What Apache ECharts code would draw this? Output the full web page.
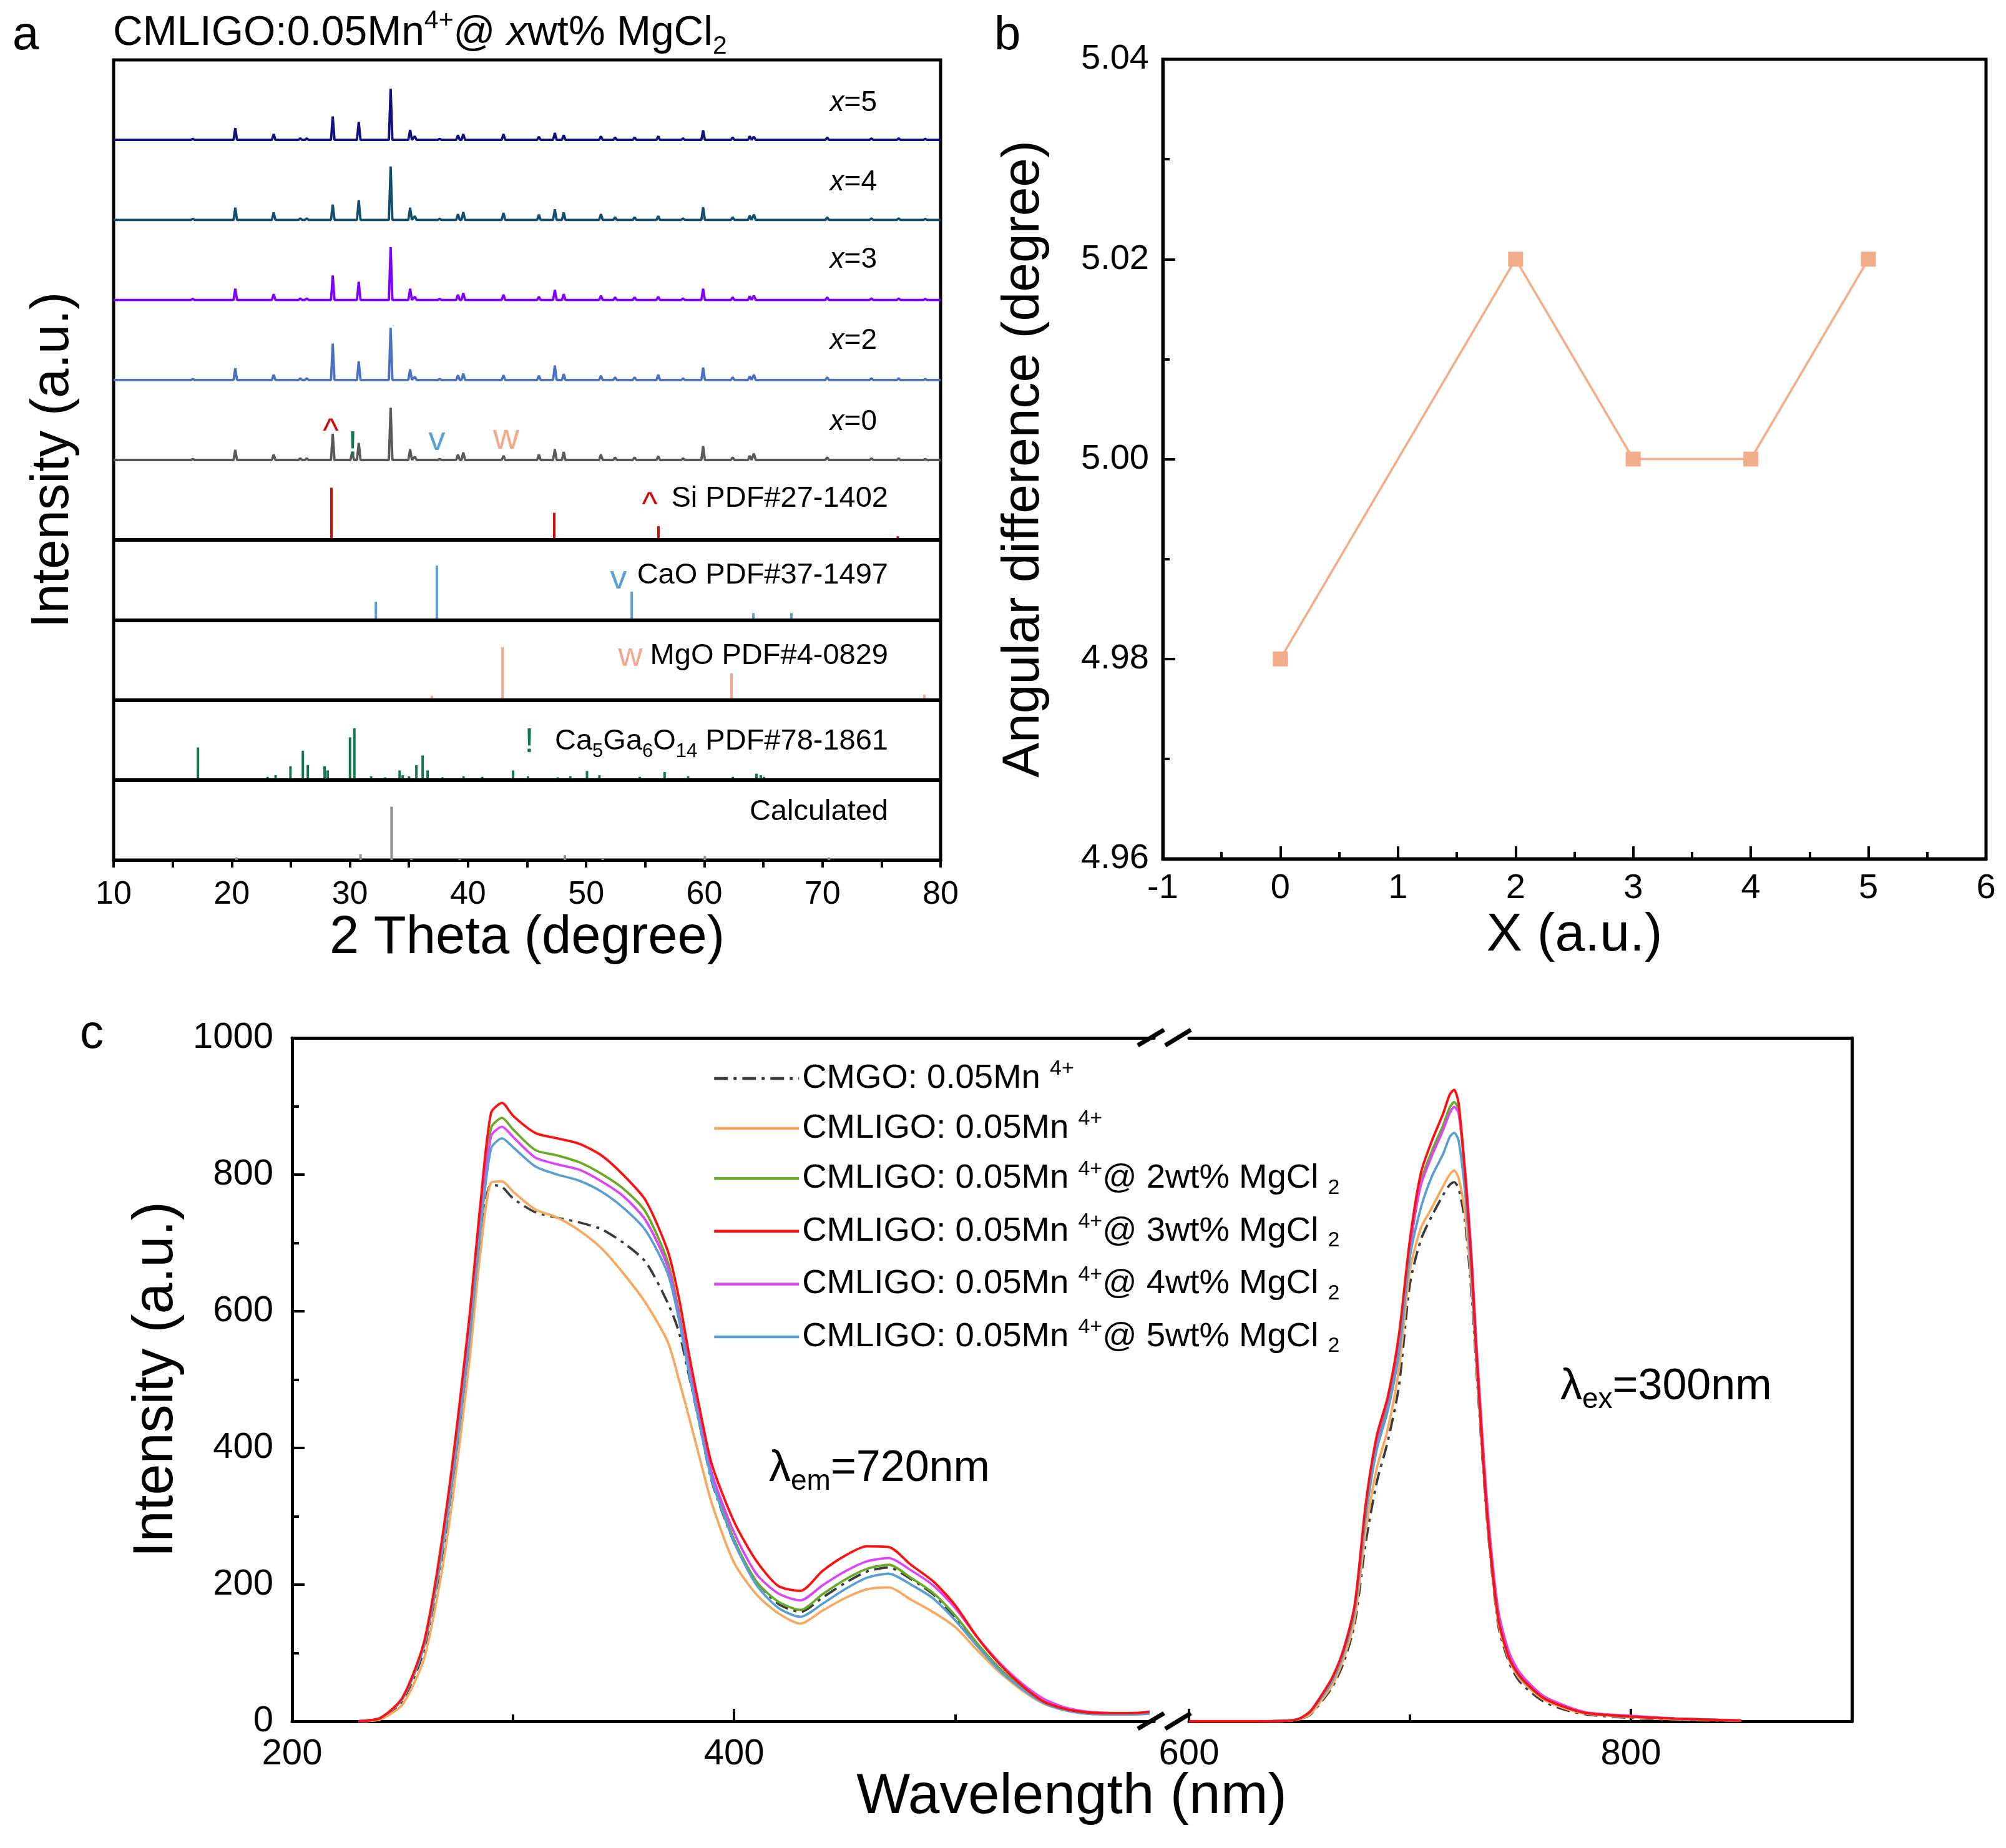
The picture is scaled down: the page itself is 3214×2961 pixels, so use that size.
<!DOCTYPE html>
<html><head><meta charset="utf-8">
<script src="https://cdn.jsdelivr.net/npm/echarts@6/dist/echarts.min.js"></script>
<style>html,body{margin:0;padding:0;background:#fff}#c{width:3214px;height:2961px}</style>
</head><body><div id="c"></div>
<script>
const FONT = '"Liberation Sans", Arial, Helvetica, sans-serif';

// ---------- Panel a: XRD patterns (peak positions in 2theta, heights in arbitrary units) ----------
const xrdPeakPos = [16.7, 20.3, 23.55, 25.8, 26.35, 28.55, 30.2, 30.75, 33.45, 35.1, 35.5, 37.6, 39.15, 39.6, 43.0, 46.0, 47.35, 48.1, 51.25, 52.45, 54.1, 56.1, 58.2, 59.9, 62.4, 63.85, 64.2, 70.4, 74.15, 76.45, 78.7];
const xrdX5 = [2, 22, 11, 3, 3, 44, 0, 34, 96, 19, 7, 2, 9, 11, 11, 6, 13, 9, 7, 5, 5, 7, 3, 18, 5, 7, 6, 5, 3, 3, 2];
const xrdX4 = [2, 23, 14, 3, 3, 29, 0, 37, 100, 23, 7, 2, 11, 15, 13, 10, 20, 14, 11, 5, 5, 7, 3, 24, 5, 8, 10, 5, 3, 3, 2];
const xrdX3 = [2, 21, 11, 3, 3, 46, 0, 34, 99, 21, 6, 2, 10, 13, 10, 6, 19, 11, 8, 5, 5, 6, 3, 21, 5, 7, 8, 5, 3, 3, 2];
const xrdX2 = [2, 22, 10, 3, 3, 68, 0, 35, 98, 20, 6, 2, 9, 12, 9, 8, 27, 11, 8, 5, 5, 10, 3, 23, 5, 7, 10, 5, 3, 3, 2];
const xrdX0 = [2, 19, 10, 3, 3, 49, 15, 32, 98, 20, 6, 2, 10, 14, 8, 10, 20, 15, 10, 5, 5, 7, 3, 26, 5, 8, 12, 5, 3, 3, 2];
const patternLabels = ['x=5', 'x=4', 'x=3', 'x=2', 'x=0'];
const patternOffsets = [1350, 1200, 1050, 900, 750];

// reference stick patterns
const siPos = [28.44, 47.30, 56.12, 69.13, 76.38];
const siInt = [98, 51, 26, 1, 7];
const caoPos = [32.2, 37.36, 53.86, 64.15, 67.37];
const caoInt = [34, 102, 53, 13, 13];
const mgoPos = [36.94, 42.92, 62.30, 78.63];
const mgoInt = [8, 99, 50, 10];
const cgoPos = [15.57, 17.14, 20.29, 23.03, 23.71, 24.97, 26.02, 26.44, 27.86, 28.12, 30.01, 30.38, 31.80, 33.0, 34.21, 34.47, 35.0, 35.63, 36.16, 36.58, 37.84, 39.62, 41.20, 42.56, 43.82, 45.08, 46.13, 47.60, 48.66, 50.07, 51.12, 54.54, 56.64, 58.63, 62.42, 64.41, 64.78, 65.04, 67.04, 68.72, 72.66];
const cgoInt = [3, 61, 2, 6, 9, 26, 55, 28, 26, 18, 80, 97, 7, 5, 18, 9, 7, 28, 46, 18, 5, 7, 6, 3, 18, 7, 3, 5, 7, 17, 9, 6, 15, 7, 6, 12, 9, 6, 3, 2, 2];
const calcPos = [20.4, 30.9, 33.53, 35.2, 39.3, 48.2, 51.4, 60.05, 70.55];
const calcInt = [5, 11, 100, 3, 3, 9, 3, 7, 5];
const refBases = [600, 450, 300, 150, 0];

// ---------- Panel b ----------
const bX = [0, 2, 3, 4, 5];
const bY = [4.98, 5.02, 5.00, 5.00, 5.02];

// ---------- Panel c ----------
const exWl = [230,240,250,260,270,280,285,290,295,300,310,320,330,340,350,360,370,375,380,385,390,400,410,420,430,440,450,460,470,480,490,500,510,520,530,540,550,560,570,580,588];
const exCMGO   = [0,4,30,108,285,545,700,785,782,765,745,737,730,720,700,672,612,570,500,425,350,262,205,172,160,181,202,219,225,208,186,152,112,77,49,28,17,12,11,11,12];
const exCMLIGO = [0,3,25,95,265,520,680,788,790,775,749,737,718,692,655,612,555,500,440,378,318,232,186,158,143,162,180,193,196,178,160,138,104,72,46,26,16,11,10,10,11];
const exMg2    = [0,5,34,118,305,570,735,868,883,866,836,828,818,801,779,745,672,600,512,430,356,266,205,175,163,186,207,223,229,210,188,155,114,78,50,28,17,12,11,11,13];
const exMg3    = [0,5,35,120,315,585,750,890,905,886,861,853,845,828,799,762,688,620,530,448,375,292,235,198,191,220,242,256,255,229,205,170,123,84,53,29,18,13,12,12,14];
const exMg4    = [0,5,34,117,300,565,728,856,870,855,825,815,807,790,768,733,665,595,510,432,362,276,216,187,177,199,219,234,239,221,199,166,123,86,56,33,20,14,12,11,12];
const exMg5    = [0,5,33,113,292,550,712,838,853,840,812,800,791,775,751,718,655,588,503,425,352,262,200,166,153,172,193,210,216,200,180,148,110,75,48,27,16,11,10,10,11];

const emWl = [600,630,645,650,655,660,665,670,675,680,685,690,695,700,705,710,715,718,720,722,725,728,730,735,740,745,750,760,770,780,800,820,850];
const emCMGO   = [0,0,1,3,10,29,51,86,143,262,350,410,490,640,705,740,770,785,789,780,730,620,520,290,140,85,57,30,17,10,5,2,0];
const emCMLIGO = [0,0,1,3,11,31,54,92,150,280,370,428,515,660,722,752,783,800,806,795,742,632,530,295,145,89,61,33,19,11,6,3,1];
const emMg2    = [0,0,1,4,14,36,62,102,165,305,405,465,552,690,790,835,872,898,906,895,795,660,540,300,150,92,64,35,21,12,7,4,1];
const emMg3    = [0,0,1,4,15,38,65,105,170,318,418,475,565,705,803,850,889,917,924,905,800,665,545,300,150,92,65,35,21,12,7,4,1];
const emMg4    = [0,0,1,4,15,38,64,106,170,312,412,472,560,695,785,828,865,890,899,890,805,675,558,318,162,100,70,38,23,13,8,4,1];
const emMg5    = [0,0,1,4,14,35,60,100,162,300,398,455,538,680,752,798,830,855,861,850,772,645,535,300,150,92,64,35,21,12,7,4,1];

const seriesNames = ['CMGO: 0.05Mn4+', 'CMLIGO: 0.05Mn4+', 'CMLIGO: 0.05Mn4+@ 2wt% MgCl2', 'CMLIGO: 0.05Mn4+@ 3wt% MgCl2', 'CMLIGO: 0.05Mn4+@ 4wt% MgCl2', 'CMLIGO: 0.05Mn4+@ 5wt% MgCl2'];
const legendRich = {
  'CMGO: 0.05Mn4+': '{t|CMGO: 0.05Mn }{sup|4+}',
  'CMLIGO: 0.05Mn4+': '{t|CMLIGO: 0.05Mn }{sup|4+}',
  'CMLIGO: 0.05Mn4+@ 2wt% MgCl2': '{t|CMLIGO: 0.05Mn }{sup|4+}{t|@ 2wt% MgCl }{sub|2}',
  'CMLIGO: 0.05Mn4+@ 3wt% MgCl2': '{t|CMLIGO: 0.05Mn }{sup|4+}{t|@ 3wt% MgCl }{sub|2}',
  'CMLIGO: 0.05Mn4+@ 4wt% MgCl2': '{t|CMLIGO: 0.05Mn }{sup|4+}{t|@ 4wt% MgCl }{sub|2}',
  'CMLIGO: 0.05Mn4+@ 5wt% MgCl2': '{t|CMLIGO: 0.05Mn }{sup|4+}{t|@ 5wt% MgCl }{sub|2}'
};

// ---------- builders ----------
function patternLine(offset, heights) {
  const pts = [[10, offset]];
  xrdPeakPos.forEach((p, i) => {
    const h = heights[i];
    if (!h) return;
    pts.push([p - 0.15, offset], [p, offset + h], [p + 0.15, offset]);
  });
  pts.push([80, offset]);
  return pts;
}
function stickSeries(name, pos, ints, base, color) {
  return {
    type: 'custom', name, xAxisIndex: 0, yAxisIndex: 0, silent: true, z: 3,
    data: pos.map((p, i) => [p, base, ints[i]]),
    encode: { x: 0, y: 1 },
    renderItem: (params, api) => {
      const a = api.coord([api.value(0), api.value(1)]);
      const b = api.coord([api.value(0), api.value(1) + api.value(2)]);
      return { type: 'line', shape: { x1: a[0], y1: a[1], x2: b[0], y2: b[1] }, style: { stroke: color, lineWidth: 4 } };
    }
  };
}
function pairs(xs, ys) { return xs.map((x, i) => [x, ys[i]]); }

const patternColors = ['#10107e', '#124e6e', '#8000ff', '#4a72c2', '#595959'];
const patternData = [xrdX5, xrdX4, xrdX3, xrdX2, xrdX0];

const series = [];
patternData.forEach((h, k) => {
  const s = {
    type: 'line', name: 'pat' + k, xAxisIndex: 0, yAxisIndex: 0, symbol: 'none', silent: true,
    data: patternLine(patternOffsets[k], h),
    lineStyle: { color: patternColors[k], width: 3.8 }, z: 2
  };
  if (k === 4) {
    s.markLine = {
      symbol: ['none', 'none'], silent: true, label: { show: false }, animation: false,
      lineStyle: { color: '#000', width: 6, type: 'solid' },
      data: [{ yAxis: 600 }, { yAxis: 450 }, { yAxis: 300 }, { yAxis: 150 }]
    };
  }
  series.push(s);
});
series.push(stickSeries('Si', siPos, siInt, refBases[0], '#d20a0a'));
series.push(stickSeries('CaO', caoPos, caoInt, refBases[1], '#5aa0d8'));
series.push(stickSeries('MgO', mgoPos, mgoInt, refBases[2], '#f4aa8a'));
series.push(stickSeries('CGO', cgoPos, cgoInt, refBases[3], '#0e7a4e'));
series.push(stickSeries('Calc', calcPos, calcInt, refBases[4], '#8c8c8c'));

// panel b
series.push({
  type: 'line', name: 'angdiff', xAxisIndex: 1, yAxisIndex: 1,
  data: pairs(bX, bY), symbol: 'rect', symbolSize: 24,
  itemStyle: { color: '#f3ad8a' }, lineStyle: { color: '#f3ad8a', width: 3.5 }
});

// panel c
const cColors = ['#3c3c3c', '#f8a95e', '#6aaa2a', '#ff1010', '#dd45f5', '#5a9fd4'];
const exData = [exCMGO, exCMLIGO, exMg2, exMg3, exMg4, exMg5];
const emData = [emCMGO, emCMLIGO, emMg2, emMg3, emMg4, emMg5];
const drawOrder = [0, 1, 2, 4, 5, 3];
drawOrder.forEach(i => {
  const ls = { color: cColors[i], width: 3.8, type: i === 0 ? [22, 9, 5, 9] : 'solid' };
  series.push({ type: 'line', name: seriesNames[i], xAxisIndex: 2, yAxisIndex: 2, symbol: 'none', smooth: 0.25,
    data: pairs(exWl, exData[i]), itemStyle: { color: cColors[i] }, lineStyle: ls });
  series.push({ type: 'line', name: seriesNames[i], xAxisIndex: 5, yAxisIndex: 3, symbol: 'none', smooth: 0.25,
    data: pairs(emWl, emData[i]), itemStyle: { color: cColors[i] }, lineStyle: ls });
});

// ---------- axes ----------
const black = '#000';
const lab = (size, extra) => Object.assign({ fontSize: size, color: black, fontFamily: FONT }, extra || {});
const aline = (show) => ({ show, onZero: false, lineStyle: { color: black, width: 5 } });
const xAxis = [
  { gridIndex: 0, type: 'value', min: 10, max: 80, interval: 10, position: 'bottom',
    axisLine: aline(true),
    axisTick: { show: true, inside: false, length: 12, lineStyle: { color: black, width: 4 } },
    minorTick: { show: true, splitNumber: 2, length: 12, lineStyle: { color: black, width: 4 } },
    axisLabel: lab(52, { margin: 30 }), splitLine: { show: false }, minorSplitLine: { show: false },
    name: '2 Theta (degree)', nameLocation: 'middle', nameGap: 80, nameTextStyle: lab(85) },
  { gridIndex: 1, type: 'value', min: -1, max: 6, interval: 1, position: 'bottom',
    axisLine: aline(true),
    axisTick: { show: true, inside: true, length: 20, lineStyle: { color: black, width: 4 } },
    minorTick: { show: true, splitNumber: 2, length: 11, lineStyle: { color: black, width: 4 } },
    axisLabel: lab(56, { margin: 20 }), splitLine: { show: false },
    name: 'X (a.u.)', nameLocation: 'middle', nameGap: 80, nameTextStyle: lab(86) },
  { gridIndex: 2, type: 'value', min: 200, max: 590, position: 'bottom',
    axisLine: aline(true),
    axisTick: { show: true, inside: true, length: 20, customValues: [200, 400], lineStyle: { color: black, width: 4 } },
    axisLabel: lab(58, { margin: 24, customValues: [200, 400] }), splitLine: { show: false } },
  { gridIndex: 2, type: 'value', min: 200, max: 590, position: 'bottom',
    axisLine: aline(false),
    axisTick: { show: true, inside: true, length: 11, customValues: [300, 500], lineStyle: { color: black, width: 4 } },
    axisLabel: { show: false }, splitLine: { show: false } },
  { gridIndex: 2, type: 'value', min: 200, max: 590, position: 'top',
    axisLine: aline(true),
    axisTick: { show: false }, axisLabel: { show: false }, splitLine: { show: false } },
  { gridIndex: 3, type: 'value', min: 600, max: 900, position: 'bottom',
    axisLine: aline(true),
    axisTick: { show: true, inside: true, length: 20, customValues: [600, 800], lineStyle: { color: black, width: 4 } },
    axisLabel: lab(58, { margin: 24, customValues: [600, 800] }), splitLine: { show: false } },
  { gridIndex: 3, type: 'value', min: 600, max: 900, position: 'bottom',
    axisLine: aline(false),
    axisTick: { show: true, inside: true, length: 11, customValues: [700], lineStyle: { color: black, width: 4 } },
    axisLabel: { show: false }, splitLine: { show: false } },
  { gridIndex: 3, type: 'value', min: 600, max: 900, position: 'top',
    axisLine: aline(true),
    axisTick: { show: false }, axisLabel: { show: false }, splitLine: { show: false } }
];
const yAxis = [
  { gridIndex: 0, type: 'value', min: 0, max: 1500, axisLine: aline(false), axisTick: { show: false },
    axisLabel: { show: false }, splitLine: { show: false },
    name: 'Intensity (a.u.)', nameLocation: 'middle', nameGap: 54, nameRotate: 90, nameTextStyle: lab(85) },
  { gridIndex: 1, type: 'value', min: 4.96, max: 5.04, interval: 0.02, position: 'left',
    axisLine: aline(true),
    axisTick: { show: true, inside: true, length: 20, lineStyle: { color: black, width: 4 } },
    minorTick: { show: true, splitNumber: 2, length: 11, lineStyle: { color: black, width: 4 } },
    axisLabel: lab(56, { margin: 22, formatter: v => v.toFixed(2) }), splitLine: { show: false },
    name: 'Angular difference (degree)', nameLocation: 'middle', nameGap: 180, nameRotate: 90, nameTextStyle: lab(84) },
  { gridIndex: 2, type: 'value', min: 0, max: 1000, interval: 200, position: 'left',
    axisLine: aline(true),
    axisTick: { show: true, inside: true, length: 20, lineStyle: { color: black, width: 4 } },
    minorTick: { show: true, splitNumber: 2, length: 11, lineStyle: { color: black, width: 4 } },
    axisLabel: lab(58, { margin: 30, formatter: v => String(v) }), splitLine: { show: false },
    name: 'Intensity (a.u.)', nameLocation: 'middle', nameGap: 172, nameRotate: 90, nameTextStyle: lab(90) },
  { gridIndex: 3, type: 'value', min: 0, max: 1000, position: 'right',
    axisLine: aline(true),
    axisTick: { show: false }, axisLabel: { show: false }, splitLine: { show: false } }
];

// ---------- text graphics ----------
function txt(x, y, text, size, opts) {
  return { type: 'text', x, y, silent: true, z: 100,
    style: Object.assign({ text, fontSize: size, fontFamily: FONT, fill: black,
      align: 'left', verticalAlign: 'middle', textAlign: 'left', textVerticalAlign: 'middle' }, opts || {}) };
}
const R = (o) => Object.assign({ align: 'right', textAlign: 'right' }, o || {});
const C = (o) => Object.assign({ align: 'center', textAlign: 'center' }, o || {});
const supSub = (main, small, lh) => ({
  t: { fontSize: main, fontFamily: FONT, lineHeight: lh },
  i: { fontSize: main, fontFamily: FONT, fontStyle: 'italic', lineHeight: lh },
  sup: { fontSize: small, fontFamily: FONT, verticalAlign: 'top' },
  sub: { fontSize: small, fontFamily: FONT, verticalAlign: 'bottom' }
});
const graphics = [
  txt(20, 58, 'a', 76),
  txt(1593, 58, 'b', 76),
  txt(128, 1658, 'c', 76),
  txt(181, 54, '{t|CMLIGO:0.05Mn}{sup|4+}{t|@ }{i|x}{t|wt% MgCl}{sub|2}', 66, { rich: supSub(66, 41, 82) }),
  // pattern labels
  ...patternLabels.map((l, k) => txt(1405, [165, 292, 416, 546, 676][k], '{i|x}{t|' + l.slice(1) + '}', 46, R({ rich: supSub(46, 30, 50) }))),
  // reference labels
  txt(1423, 799, 'Si PDF#27-1402', 47, R()),
  txt(1423, 922, 'CaO PDF#37-1497', 47, R()),
  txt(1423, 1051, 'MgO PDF#4-0829', 47, R()),
  txt(1423, 1188, '{t|Ca}{sub|5}{t|Ga}{sub|6}{t|O}{sub|14}{t| PDF#78-1861}', 47, R({ rich: supSub(47, 31, 64) })),
  txt(1423, 1301, 'Calculated', 47, R()),
  // phase markers
  txt(1041, 811, '^', 54, C({ fill: '#d20a0a' })),
  txt(991, 928, 'v', 54, C({ fill: '#5aa0d8' })),
  txt(1010, 1052, 'w', 54, C({ fill: '#f4aa8a' })),
  txt(848, 1190, '!', 56, C({ fill: '#0e7a4e' })),
  txt(530, 693, '^', 54, C({ fill: '#d20a0a' })),
  txt(565, 714, '!', 56, C({ fill: '#0e7a4e' })),
  txt(700, 706, 'v', 54, C({ fill: '#5aa0d8' })),
  txt(811, 703, 'w', 58, C({ fill: '#f4aa8a' })),
  // panel c texts
  txt(1232, 2354, '{t|λ}{sub|em}{t|=720nm}', 70, { rich: supSub(70, 46, 86) }),
  txt(2500, 2223, '{t|λ}{sub|ex}{t|=300nm}', 70, { rich: supSub(70, 46, 86) }),
  txt(1717, 2880, 'Wavelength (nm)', 91, C()),
  // axis break marks
  ...[1663, 2758].flatMap(y => [
    { type: 'line', silent: true, z: 100, shape: { x1: 1823, y1: y + 12, x2: 1865, y2: y - 13 }, style: { stroke: black, lineWidth: 7 } },
    { type: 'line', silent: true, z: 100, shape: { x1: 1867, y1: y + 12, x2: 1908, y2: y - 13 }, style: { stroke: black, lineWidth: 7 } }
  ])
];

const option = {
  animation: false,
  backgroundColor: '#fff',
  textStyle: { fontFamily: FONT },
  grid: [
    { left: 182, top: 96, width: 1325, height: 1282, show: true, borderColor: black, borderWidth: 5, backgroundColor: 'transparent' },
    { left: 1863, top: 95, width: 1319, height: 1281, show: true, borderColor: black, borderWidth: 5, backgroundColor: 'transparent' },
    { left: 468, top: 1663, width: 1381, height: 1095 },
    { left: 1905, top: 1663, width: 1062, height: 1095 }
  ],
  xAxis, yAxis, series,
  legend: {
    data: seriesNames, orient: 'vertical', left: 1142, top: 1696, padding: 0,
    itemWidth: 136, itemHeight: 2, itemGap: 20.6, selectedMode: false,
    itemStyle: { opacity: 0 },
    lineStyle: { width: 4.5 },
    formatter: n => legendRich[n],
    textStyle: { fontFamily: FONT, fontSize: 54.5, color: black, rich: supSub(54.5, 34, 64) }
  },
  graphic: graphics
};
const chart = echarts.init(document.getElementById('c'), null, { renderer: 'canvas', width: 3214, height: 2961 });
chart.setOption(option);
</script>
</body></html>
